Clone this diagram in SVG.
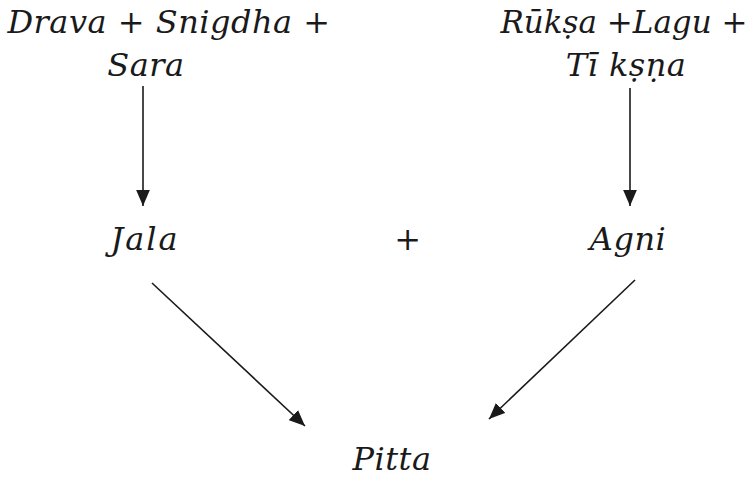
<svg xmlns="http://www.w3.org/2000/svg" width="750" height="477" viewBox="0 0 750 477">
<style>
text{font-family:"DejaVu Serif","Liberation Serif",serif;font-style:italic;font-size:32px;letter-spacing:0.5px;fill:#1a1a1a}
.c line{stroke:#1a1a1a;stroke-width:1.6;fill:none}
</style>
<defs>
<marker id="ah2" viewBox="0 0 14 12" refX="14" refY="6" markerWidth="16" markerHeight="14" markerUnits="userSpaceOnUse" orient="auto">
<path d="M0,0 L14,6 L0,12 z" fill="#1a1a1a"/>
</marker>
</defs>
<rect width="750" height="477" fill="#fff"/>
<g id="n1"><text x="169" y="33" text-anchor="middle">Drava + Snigdha +</text><text x="146" y="76" text-anchor="middle">Sara</text></g>
<g id="n2"><text x="624" y="33" text-anchor="middle" style="font-size:31px;letter-spacing:0">Rūkṣa +Lagu +</text><text x="626" y="76" text-anchor="middle">Tī kṣṇa</text></g>
<g id="n3"><text x="145" y="250" text-anchor="middle" style="letter-spacing:2px">Jala</text></g>
<g id="plus"><text x="408" y="250" text-anchor="middle">+</text></g>
<g id="n4"><text x="628" y="250" text-anchor="middle">Agni</text></g>
<g id="n5"><text x="392" y="470" text-anchor="middle">Pitta</text></g>
<g class="c" id="connectors">
<line x1="143" y1="86" x2="143" y2="206" marker-end="url(#ah2)"/>
<line x1="630" y1="88" x2="630" y2="206" marker-end="url(#ah2)"/>
<line x1="152" y1="283" x2="305" y2="426" marker-end="url(#ah2)"/>
<line x1="635" y1="280" x2="489" y2="419" marker-end="url(#ah2)"/>
</g>
</svg>
